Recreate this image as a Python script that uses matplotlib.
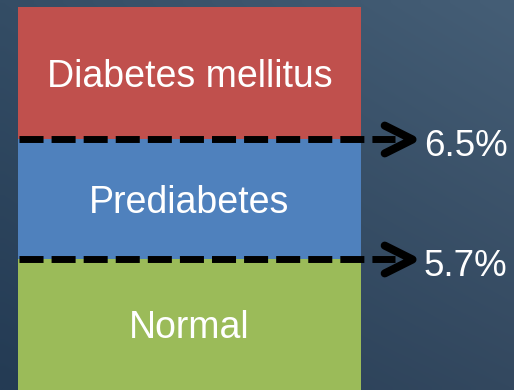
import numpy as np
import matplotlib
matplotlib.use("Agg")
import matplotlib.pyplot as plt
from matplotlib.path import Path
from matplotlib.markers import MarkerStyle

plt.rcParams['font.family'] = ['Liberation Sans', 'DejaVu Sans']
plt.rcParams['lines.scale_dashes'] = False

# Data (schematic HbA1c categories, bottom to top)
categories = ["Normal", "Prediabetes", "Diabetes mellitus"]
band_heights = [1.1, 1.0, 1.1]
band_colors = ["#9BBB59", "#4F81BD", "#C0504D"]
threshold_labels = ["5.7%", "6.5%"]

W, H, DPI = 514, 390, 100
fig = plt.figure(figsize=(W / DPI, H / DPI), dpi=DPI)
ax = fig.add_axes([0, 0, 1, 1])

# y scale: 120 px per unit
ppu = 120.0
ylo = 0.008
yhi = ylo + H / ppu
ax.set_xlim(0, W)
ax.set_ylim(ylo, yhi)
ax.axis('off')

# background gradient (bilinear between corners)
tl = np.array([52, 77, 101]) / 255
tr = np.array([69, 94, 118]) / 255
bl = np.array([36, 59, 84]) / 255
br = np.array([51, 72, 95]) / 255
u = np.linspace(0, 1, 64)[None, :, None]
v = np.linspace(0, 1, 64)[:, None, None]
grad = (1 - v) * ((1 - u) * tl + u * tr) + v * ((1 - u) * bl + u * br)
ax.imshow(grad, extent=(0, W, ylo, yhi), origin='upper', aspect='auto', zorder=0,
          interpolation='bilinear')

bar_x, bar_w = 18, 343
bottoms = np.concatenate([[ylo - 0.05], np.cumsum(band_heights)[:-1]])
tops = np.cumsum(band_heights)
heights = tops - bottoms
ax.bar([bar_x], [heights[0]], bottom=bottoms[0], width=bar_w, align='edge',
       color=band_colors[0], zorder=1)
for i in range(1, len(categories)):
    ax.bar([bar_x], [band_heights[i]], bottom=bottoms[i], width=bar_w, align='edge',
           color=band_colors[i], zorder=1)

# labels
for i, cat in enumerate(categories):
    lo = max(bottoms[i], ylo)
    cy = (lo + tops[i]) / 2
    ax.text(bar_x + bar_w / 2, cy - 14 / ppu, cat, color='white', fontsize=27,
            ha='center', va='baseline', zorder=3)

# thresholds with dashed lines and chevrons
chev = Path([(-2, 1), (0, 0), (-2, -1)], [Path.MOVETO, Path.LINETO, Path.LINETO])
mstyle = MarkerStyle(chev, joinstyle='miter', capstyle='round')
for j, lab in enumerate(threshold_labels):
    y = tops[j]
    ax.plot([19, 395], [y, y], color='black', lw=5.0, dash_capstyle='butt',
            linestyle=(0, (17.3, 5.8)), zorder=4)
    ax.plot([412], [y], marker=mstyle, markersize=40, mfc='none', mec='black',
            mew=5.8, zorder=4)
    ax.text(424, y - 17 / ppu, lab, color='white', fontsize=26.5, ha='left',
            va='baseline', zorder=4)

fig.savefig("out.png", dpi=DPI)
